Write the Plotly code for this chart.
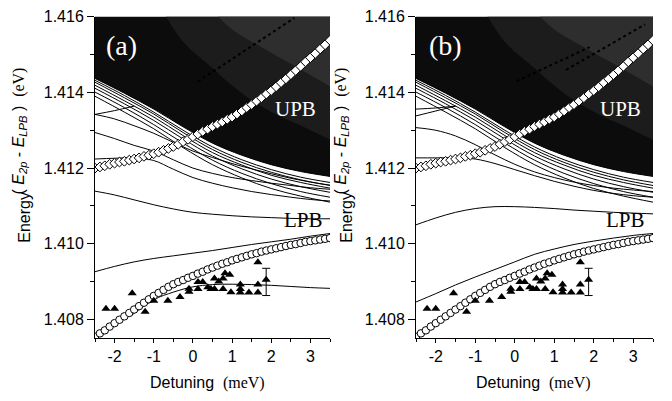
import plotly.graph_objects as go

# ---------------- data ----------------
grid_x = [-2.5, -1.75, -1.0, -0.25, 0.5, 1.25, 2.0, 2.75, 3.5]
band_edge = [1.41437, 1.41398, 1.41356, 1.41309, 1.41266, 1.41234, 1.41209, 1.41191, 1.41178]
fan_lines = [
    [1.41432, 1.41392, 1.41348, 1.41300, 1.41256, 1.41222, 1.41196, 1.41176, 1.41162],
    [1.41427, 1.41386, 1.41343, 1.41294, 1.41249, 1.41215, 1.41189, 1.41169, 1.41154],
    [1.41419, 1.41378, 1.41335, 1.41286, 1.41241, 1.41208, 1.41181, 1.41162, 1.41147],
    [1.41411, 1.41370, 1.41326, 1.41277, 1.41232, 1.41198, 1.41171, 1.41151, 1.41136],
    [1.41401, 1.41360, 1.41315, 1.41266, 1.41221, 1.41186, 1.41159, 1.41138, 1.41123],
    [1.41390, 1.41348, 1.41304, 1.41254, 1.41209, 1.41174, 1.41146, 1.41126, 1.41110],
]
band_top = 1.4168
# lighter (striated) parts of the dense band
stri1_x = [-1.1, -0.3, 0.46, 1.1, 1.74, 2.3, 2.77, 3.2, 3.6]
stri1_y = [1.4168, 1.41540, 1.41468, 1.41410, 1.41364, 1.41333, 1.41312, 1.41290, 1.41270]
stri2_x = [0.0, 0.9, 1.74, 2.6, 3.6]
stri2_y = [1.4168, 1.41575, 1.41520, 1.41470, 1.41410]

fine_x = [-2.5, -2.0, -1.5, -1.0, -0.5, 0.0, 0.5, 1.0, 1.5, 2.0, 2.5, 3.0, 3.5]
# panel (a) discrete curves
a_rise_x = [-2.5, -2.0, -1.5]
a_rise_y = [1.41342, 1.41352, 1.41364]
a_B = [1.41342, 1.41330, 1.41312, 1.41292, 1.41268, 1.41245, 1.41228, 1.41212, 1.41198, 1.41185, 1.41173, 1.41163, 1.41155]
a_C = [1.41294, 1.41278, 1.41260, 1.41245, 1.41222, 1.41200, 1.41186, 1.41175, 1.41167, 1.41160, 1.41154, 1.41148, 1.41144]
a_G = [1.41224, 1.41226, 1.41227, 1.41220, 1.41197, 1.41175, 1.41160, 1.41148, 1.41138, 1.41130, 1.41123, 1.41117, 1.41113]
a_D = [1.41139, 1.41129, 1.41116, 1.41103, 1.41092, 1.41083, 1.41078, 1.41074, 1.41071, 1.41069, 1.41067, 1.41066, 1.41066]
a_E = [1.40926, 1.40940, 1.40952, 1.40961, 1.40968, 1.40975, 1.40982, 1.40990, 1.40998, 1.41005, 1.41012, 1.41020, 1.41027]
a_F_x = [-1.6, -1.0, -0.5, 0.0, 0.5, 1.0, 1.5, 2.0, 2.5, 3.0, 3.5]
a_F_y = [1.40808, 1.40852, 1.40872, 1.40886, 1.40892, 1.40893, 1.40892, 1.40890, 1.40887, 1.40884, 1.40882]
a_dash_x = [0.13, 2.59]
a_dash_y = [1.41429, 1.41597]

# panel (b) discrete curves
b_H1_x = [-2.5, -2.0, -1.5]
b_H1_y = [1.41356, 1.41359, 1.41364]
b_H2_y = [1.41338, 1.41351, 1.41364]
b_C = [1.41307, 1.41300, 1.41285, 1.41262, 1.41235, 1.41210, 1.41190, 1.41175, 1.41163, 1.41154, 1.41147, 1.41142, 1.41138]
b_G = [1.41227, 1.41227, 1.41227, 1.41224, 1.41212, 1.41196, 1.41180, 1.41165, 1.41152, 1.41141, 1.41133, 1.41127, 1.41123]
b_D = [1.41050, 1.41068, 1.41083, 1.41093, 1.41098, 1.41098, 1.41096, 1.41093, 1.41089, 1.41086, 1.41083, 1.41081, 1.41079]
b_E = [1.40846, 1.40868, 1.40891, 1.40912, 1.40932, 1.40952, 1.40972, 1.40986, 1.40998, 1.41007, 1.41015, 1.41022, 1.41027]
b_dash1_x = [0.05, 1.9]
b_dash1_y = [1.4143, 1.4152]
b_dash2_x = [1.3, 3.3]
b_dash2_y = [1.4146, 1.4158]

# markers
mk_x = [-2.5, -2.375, -2.25, -2.125, -2.0, -1.875, -1.75, -1.625, -1.5, -1.375, -1.25, -1.125,
        -1.0, -0.875, -0.75, -0.625, -0.5, -0.375, -0.25, -0.125, 0.0, 0.125, 0.25, 0.375,
        0.5, 0.625, 0.75, 0.875, 1.0, 1.125, 1.25, 1.375, 1.5, 1.625, 1.75, 1.875, 2.0,
        2.125, 2.25, 2.375, 2.5, 2.625, 2.75, 2.875, 3.0, 3.125, 3.25, 3.375, 3.5]
upb_y = [1.41200, 1.41203, 1.41206, 1.41210, 1.41213, 1.41216, 1.41218, 1.41221, 1.41224, 1.41227,
         1.41231, 1.41234, 1.41238, 1.41242, 1.41247, 1.41252, 1.41257, 1.41263, 1.41270, 1.41276,
         1.41283, 1.41290, 1.41297, 1.41303, 1.41310, 1.41316, 1.41322, 1.41329, 1.41335, 1.41343,
         1.41351, 1.41360, 1.41368, 1.41377, 1.41386, 1.41396, 1.41405, 1.41415, 1.41426, 1.41436,
         1.41447, 1.41458, 1.41469, 1.41481, 1.41492, 1.41503, 1.41515, 1.41526, 1.41538]
lpb_y = [1.40754, 1.40763, 1.40771, 1.40781, 1.40790, 1.40799, 1.40808, 1.40817, 1.40826, 1.40835,
         1.40844, 1.40853, 1.40862, 1.40870, 1.40878, 1.40886, 1.40893, 1.40899, 1.40904, 1.40910,
         1.40915, 1.40921, 1.40926, 1.40932, 1.40937, 1.40942, 1.40947, 1.40951, 1.40956, 1.40960,
         1.40964, 1.40968, 1.40972, 1.40975, 1.40979, 1.40982, 1.40985, 1.40988, 1.40991, 1.40994,
         1.40997, 1.40999, 1.41002, 1.41005, 1.41007, 1.41009, 1.41011, 1.41013, 1.41015]
tri_x = [-2.22, -2.0, -1.55, -1.22, -1.0, -0.64, -0.33, -0.1, -0.1, 0.13, 0.13, 0.25, 0.38, 0.46, 0.55,
         0.55, 0.66, 0.77, 0.77, 0.82, 0.94, 0.97, 1.21, 1.21, 1.21, 1.43, 1.66, 1.66, 1.66, 1.87]
tri_y = [1.40828, 1.40828, 1.40869, 1.40820, 1.40849, 1.40849, 1.40859, 1.40873, 1.40881, 1.40880,
         1.40899, 1.40899, 1.40885, 1.40880, 1.40908, 1.40880, 1.40900, 1.40908, 1.40880, 1.40922,
         1.40918, 1.40872, 1.40892, 1.40880, 1.40871, 1.40871, 1.40951, 1.40892, 1.40871, 1.40905]
eb_x = [1.87]
eb_y = [1.40899]
eb_err = [0.00036]

x_ticks = [-2, -1, 0, 1, 2, 3]
x_tick_text = ["-2", "-1", "0", "1", "2", "3"]
y_ticks = [1.408, 1.410, 1.412, 1.414, 1.416]
y_tick_text = ["1.408", "1.410", "1.412", "1.414", "1.416"]

# ---------------- figure ----------------
W, H = 672, 401
fig = go.Figure()
SANS = "Liberation Sans, Arial, sans-serif"
SERIF = "Liberation Serif, Times New Roman, serif"


def add_line(xs, ys, xa, ya, dash="solid", width=1.0, color="black"):
    fig.add_trace(go.Scatter(x=xs, y=ys, mode="lines", xaxis=xa, yaxis=ya,
                             line=dict(color=color, width=width, shape="spline", dash=dash),
                             hoverinfo="skip", showlegend=False))


def add_band(xs_low, ys_low, top, xa, ya, color):
    # invisible top boundary, then the lower edge filled up to it
    fig.add_trace(go.Scatter(x=xs_low, y=[top] * len(xs_low), mode="lines", xaxis=xa, yaxis=ya,
                             line=dict(width=0, color=color), hoverinfo="skip", showlegend=False))
    fig.add_trace(go.Scatter(x=xs_low, y=ys_low, mode="lines", fill="tonexty", fillcolor=color,
                             line=dict(width=0, color=color, shape="spline"), xaxis=xa, yaxis=ya,
                             hoverinfo="skip", showlegend=False))


for panel in ("a", "b"):
    xa, ya = ("x", "y") if panel == "a" else ("x2", "y2")
    add_band(grid_x, band_edge, band_top, xa, ya, "#0c0c0c")
    add_band(stri1_x, stri1_y, band_top, xa, ya, "#1c1c1c")
    add_band(stri2_x, stri2_y, band_top, xa, ya, "#2e2e2e")
    add_line(grid_x, band_edge, xa, ya)
    for fl in fan_lines:
        add_line(grid_x, fl, xa, ya)
    if panel == "a":
        add_line(a_dash_x, a_dash_y, xa, ya, dash="dot", width=2, color="#000")
        add_line(a_rise_x, a_rise_y, xa, ya)
        add_line(fine_x, a_B, xa, ya)
        add_line(fine_x, a_C, xa, ya)
        add_line(fine_x, a_G, xa, ya)
        add_line(fine_x, a_D, xa, ya)
        add_line(fine_x, a_E, xa, ya)
        add_line(a_F_x, a_F_y, xa, ya)
    else:
        add_line(b_dash1_x, b_dash1_y, xa, ya, dash="dot", width=2, color="#000")
        add_line(b_dash2_x, b_dash2_y, xa, ya, dash="dot", width=2, color="#000")
        add_line(b_H1_x, b_H1_y, xa, ya)
        add_line(b_H1_x, b_H2_y, xa, ya)
        add_line(fine_x, b_C, xa, ya)
        add_line(fine_x, b_G, xa, ya)
        add_line(fine_x, b_D, xa, ya)
        add_line(fine_x, b_E, xa, ya)
    # UPB diamonds
    fig.add_trace(go.Scatter(x=mk_x, y=upb_y, mode="markers", xaxis=xa, yaxis=ya,
                             marker=dict(symbol="diamond", size=7.5, color="white",
                                         line=dict(color="black", width=1)),
                             hoverinfo="skip", showlegend=False))
    # LPB circles
    fig.add_trace(go.Scatter(x=mk_x, y=lpb_y, mode="markers", xaxis=xa, yaxis=ya,
                             marker=dict(symbol="circle", size=7.5, color="white",
                                         line=dict(color="black", width=1)),
                             hoverinfo="skip", showlegend=False))
    # experimental triangles
    fig.add_trace(go.Scatter(x=tri_x, y=tri_y, mode="markers", xaxis=xa, yaxis=ya,
                             marker=dict(symbol="triangle-up", size=8, color="black"),
                             hoverinfo="skip", showlegend=False))
    fig.add_trace(go.Scatter(x=eb_x, y=eb_y, mode="markers", xaxis=xa, yaxis=ya,
                             marker=dict(size=1, color="rgba(0,0,0,0)"),
                             error_y=dict(type="data", array=eb_err, color="black",
                                          thickness=1, width=4),
                             hoverinfo="skip", showlegend=False))

xd1 = [95 / W, 330 / W]
xd2 = [416 / W, 653 / W]
yd = [1 - 337 / H, 1 - 9 / H]

axis_common = dict(showgrid=False, zeroline=False, showline=True, linecolor="black",
                   linewidth=1, ticks="outside", tickcolor="black",
                   tickfont=dict(family=SANS, size=16, color="black"))
xaxis_common = dict(axis_common, range=[-2.5, 3.5], tickvals=x_ticks, ticktext=x_tick_text,
                    ticklen=4,
                    minor=dict(dtick=0.5, tick0=0, ticks="outside", ticklen=3, tickcolor="black"))
yaxis_common = dict(axis_common, range=[1.4075, 1.416], tickvals=y_ticks, ticktext=y_tick_text,
                    ticklen=7,
                    minor=dict(dtick=0.001, tick0=1.408, ticks="outside", ticklen=4, tickcolor="black"))

fig.update_layout(
    width=W, height=H, margin=dict(l=0, r=0, t=0, b=0),
    paper_bgcolor="white", plot_bgcolor="white",
    xaxis=dict(xaxis_common, domain=xd1, anchor="y"),
    yaxis=dict(yaxis_common, domain=yd, anchor="x"),
    xaxis2=dict(xaxis_common, domain=xd2, anchor="y2"),
    yaxis2=dict(yaxis_common, domain=yd, anchor="x2"),
)

ann = []


def add_text(px, py, text, size, color="black", family=SANS, angle=0):
    ann.append(dict(x=px / W, y=1 - py / H, xref="paper", yref="paper", text=text,
                    showarrow=False, xanchor="center", yanchor="middle", textangle=angle,
                    font=dict(family=family, size=size, color=color)))


for dx in (0, 1):
    lab = "(a)" if dx == 0 else "(b)"
    add_text(121 + 324 * dx, 38, lab, 28, "white", SERIF)
    add_text(295 + 325 * dx, 103, "UPB", 21, "white", SERIF)
    add_text(303 + 322 * dx, 216, "LPB", 21, "black", SERIF)
    add_text(207 + 326 * dx, 383,
             "Detuning  <span style='font-family:Liberation Serif'>(meV)</span>", 16)
    add_text(25 + 322 * dx, 214, "Energy", 16, angle=-90)
    add_text(19 + 322 * dx, 126,
             "( <i>E</i><sub><i>2p</i></sub> - <i>E</i><sub><i>LPB</i></sub> )  "
             "<span style='font-family:Liberation Serif'>(eV)</span>", 16, angle=-90)
fig.update_layout(annotations=ann)

fig.write_html("out.html")
